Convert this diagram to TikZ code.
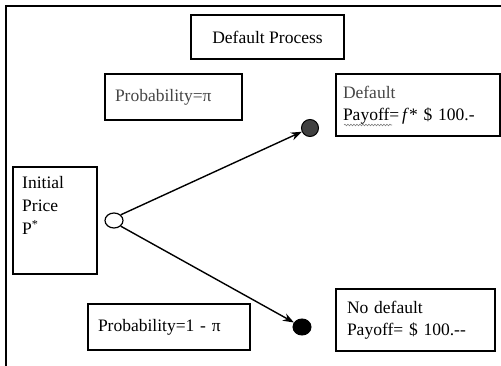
\documentclass[tikz,border=0pt]{standalone}
\usepackage{fontspec}
\setmainfont{Liberation Serif}
\usetikzlibrary{arrows.meta,shapes.geometric,decorations.pathmorphing}
\definecolor{txtgray}{RGB}{70,70,70}
\definecolor{dotgray}{RGB}{64,64,64}
\begin{document}
\begin{tikzpicture}[x=1pt,y=-1pt,
  box/.style={draw,line width=1.2pt,inner xsep=0pt,inner ysep=0pt,align=left,font=\fontsize{17.5}{22}\selectfont},
  arr/.style={line width=1.4pt,-{Stealth[length=11pt,width=8pt]}}]
\useasboundingbox (0,0) rectangle (501,366);
\fill[white] (0,0) rectangle (501,366);
% outer frame
\draw[line width=1.5pt] (6,366) -- (6,6) -- (501,6);
% boxes
\node[box,minimum width=153pt,minimum height=44pt,align=center] (title) at (267.5,37) {Default Process};
\node[box,minimum width=137pt,minimum height=46pt,text width=117pt,text=txtgray] (pup) at (173.5,97) {Probability=π};
\node[box,minimum width=164pt,minimum height=62pt,text width=150pt] (def) at (418,105) {\textcolor{txtgray}{Default}\\Payoff=\,\textit{f}* \$ 100.-};
\node[box,minimum width=84pt,minimum height=107pt] (init) at (55,220.5) {};
\node[anchor=north west,inner sep=0pt,align=left,font=\fontsize{17.5}{23}\selectfont] (inittxt) at (22,176) {Initial\\Price\\P\textsuperscript{*}};
\node[box,minimum width=162pt,minimum height=46pt,text width=142pt] (pdown) at (169,327) {Probability=1 - π};
\node[box,minimum width=159pt,minimum height=62pt,text width=137pt] (nodef) at (415.5,320) {No default\\Payoff= \$ 100.-{}-};
% spell-check squiggle under "Payoff"
\coordinate (sqa) at (344,125);
\coordinate (sqb) at (392,125);
\draw[gray,line width=0.6pt,decorate,decoration={snake,amplitude=0.8pt,segment length=3pt}] (sqa) -- (sqb);
% circles
\node[draw,line width=1.2pt,ellipse,minimum width=18pt,minimum height=15pt,inner sep=0pt,fill=white] (start) at (114,220.5) {};
\node[draw,line width=1pt,circle,minimum size=17pt,inner sep=0pt,fill=dotgray] (up) at (310,128) {};
\node[draw,line width=1pt,ellipse,minimum width=18pt,minimum height=16pt,inner sep=0pt,fill=black] (down) at (302,327) {};
% arrows
\draw[arr] (start.40) -- (up);
\draw[arr] (start.-40) -- (down);
\end{tikzpicture}
\end{document}
